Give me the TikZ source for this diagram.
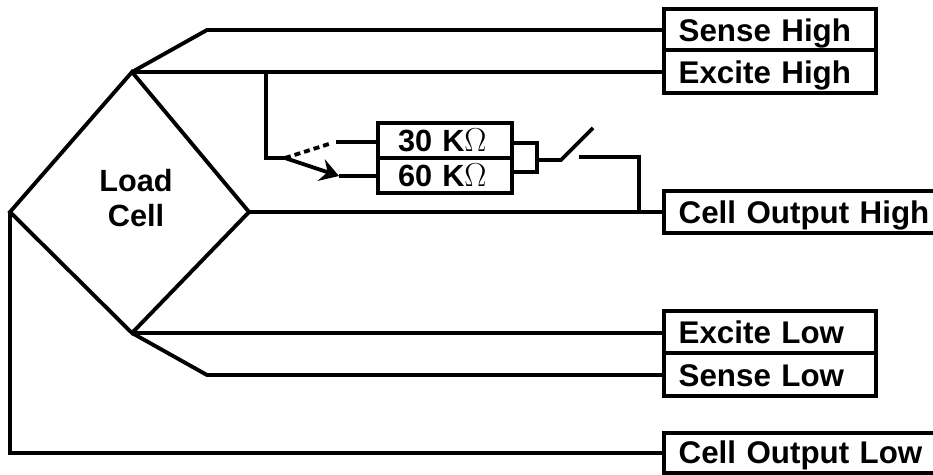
\documentclass[tikz,border=0pt]{standalone}
\usepackage{fontspec}
\setmainfont{Liberation Sans}
\usetikzlibrary{arrows.meta}
\tikzset{
    wire/.style={line width=2.9pt, line join=miter},
    tagbox/.style={draw, line width=3.1pt, outer sep=0pt, anchor=north west, align=left, inner ysep=0pt, inner xsep=11pt,
        text height=#1, text depth=7pt, font=\bfseries\fontsize{23.5}{26}\selectfont},
    resbox/.style={draw, line width=3.1pt, outer sep=0pt, anchor=north west, align=left, inner ysep=0pt, inner xsep=15pt,
        text width=70.5pt, text height=21pt, text depth=5.2pt, font=\bfseries\fontsize{23}{24}\selectfont}
}
\begin{document}
\begin{tikzpicture}[>={Stealth[length=14pt,width=17pt,inset=5pt]}, x=.75pt, y=-.75pt]
\path[clip](0,0)rectangle(933,475);

\node[tagbox=24pt, text width=137pt] (sensehigh) at (664,9) {Sense High};
\node[tagbox=25pt, text width=137pt] (excitehigh) at (664,50) {Excite High};
\node[tagbox=24.5pt, text width=200pt] (cellhigh) at (664,191) {Cell Output High};
\node[tagbox=24.5pt, text width=137pt] (excitelow) at (664,311) {Excite Low};
\node[tagbox=25pt, text width=137pt] (senselow) at (664,353) {Sense Low};
\node[tagbox=23pt, text width=200pt] (celllow) at (664,433) {Cell Output Low};

\node[resbox] (res30) at (378,123) {30 K$\Omega$};
\node[resbox] (res60) at (378,158) {60 K$\Omega$};
\node[draw, line width=2.9pt, outer sep=0pt, anchor=west, minimum width=18.5pt, minimum height=21.5pt, inner sep=0pt] (plug) at (512,157.5) {};

\node[align=center, font=\bfseries\fontsize{23}{26}\selectfont] (cell) at (136,198) {Load\\Cell};

\coordinate (top) at (132,72);
\coordinate (left) at (10,212);
\coordinate (right) at (249,212);
\coordinate (bottom) at (132,333);
\coordinate (sensetop) at (207,30);
\coordinate (sensebot) at (207,375);
\coordinate (corner) at (10,453);

\draw[wire](top)--(right)--(bottom)--(left)--cycle;
\draw[wire](top)--(sensetop)--(sensetop-|sensehigh.west);
\draw[wire](top)--(top-|excitehigh.west);
\draw[wire](right)--(right-|cellhigh.west);
\draw[wire](bottom)--(bottom-|excitelow.west);
\draw[wire](bottom)--(sensebot)--(sensebot-|senselow.west);
\draw[wire](left)--(corner)--(corner-|celllow.west);

\coordinate (tap) at (266,72);
\coordinate (pivot) at (285,158);
\coordinate (gap30) at (332,143);
\coordinate (pin30) at (336,142);
\coordinate (pin60) at (339,176);
\draw[wire](tap)--(266,158)--(pivot);
\draw[wire, dash pattern=on 4.5pt off 3pt](pivot)--(gap30);
\draw[wire, ->](pivot)--(pin60);
\draw[wire](pin30)--(pin30-|res30.west);
\draw[wire](pin60)--(pin60-|res60.west);

\coordinate (hinge) at (561,160);
\draw[wire](hinge-|plug.east)--(hinge)--(593,128);
\coordinate (contact) at (579,157);
\coordinate (join) at (639,212);
\draw[wire](contact)--(contact-|join)--(join);
\end{tikzpicture}
\end{document}
